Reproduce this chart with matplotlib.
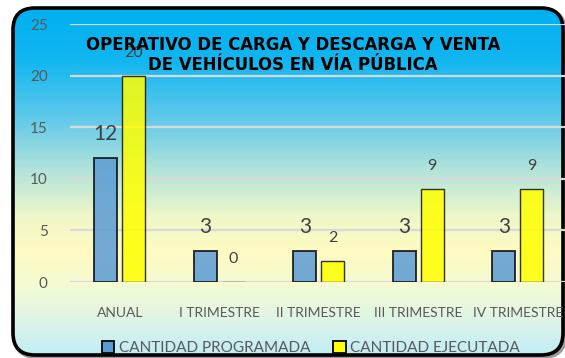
import numpy as np
import matplotlib
matplotlib.use("Agg")
import matplotlib.pyplot as plt
from matplotlib.patches import FancyBboxPatch, Patch
from matplotlib.colors import LinearSegmentedColormap

# ── Data ─────────────────────────────────────────────────────────────
categorias = ["ANUAL", "I TRIMESTRE", "II TRIMESTRE", "III TRIMESTRE", "IV TRIMESTRE"]
programada = [12, 3, 3, 3, 3]
ejecutada  = [20, 0, 2, 9, 9]
y_ticks    = [0, 5, 10, 15, 20, 25]

TITULO = "OPERATIVO DE CARGA Y DESCARGA Y VENTA\nDE VEHÍCULOS EN VÍA PÚBLICA"

AZUL     = "#5B9BD5"
AMARILLO = "#FFFF00"
GRIS_TXT = "#595959"
GRID     = "#D9D9D9"

W, H = 565, 358
plt.rcParams["font.family"] = ["Lato", "DejaVu Sans"]

fig = plt.figure(figsize=(W / 100, H / 100), dpi=100)
fig.patch.set_facecolor("white")

# ── Rounded frame with gradient fill (pixel coordinates) ─────────────
bg = fig.add_axes([0, 0, 1, 1], zorder=-5)
bg.set_xlim(0, W)
bg.set_ylim(H, 0)
bg.axis("off")

x0, y0, x1, y1 = 13, 8, 563, 355
shadow = FancyBboxPatch((x0 + 2, y0 + 2), x1 - x0, y1 - y0,
                        boxstyle="round,pad=0,rounding_size=22",
                        facecolor="#9a9a9a", edgecolor="#9a9a9a", lw=3)
bg.add_patch(shadow)
frame = FancyBboxPatch((x0, y0), x1 - x0, y1 - y0,
                       boxstyle="round,pad=0,rounding_size=22",
                       facecolor="none", edgecolor="black", lw=2.6, zorder=3)
bg.add_patch(frame)

stops = [
    (0.00, "#00B0F0"),
    (0.15, "#12B6F0"),
    (0.32, "#62CAEA"),
    (0.47, "#B4E4DA"),
    (0.60, "#EEF7C8"),
    (0.70, "#FFFBC2"),
    (0.82, "#F2FAD6"),
    (0.93, "#D6F2EC"),
    (1.00, "#C2EDF6"),
]
cmap = LinearSegmentedColormap.from_list("fondo", stops)
grad = np.linspace(0, 1, 400).reshape(-1, 1)
img = bg.imshow(grad, cmap=cmap, aspect="auto",
                extent=(x0, x1, y1, y0), zorder=1)
clip = FancyBboxPatch((x0, y0), x1 - x0, y1 - y0,
                      boxstyle="round,pad=0,rounding_size=22",
                      transform=bg.transData, facecolor="none")
img.set_clip_path(clip)

# ── Bar chart ────────────────────────────────────────────────────────
ax = fig.add_axes([70 / W, 76 / H, (W - 70) / W, 258 / H])
ax.patch.set_alpha(0)
x = np.arange(len(categorias))
bw, off = 0.23, 0.14

b1 = ax.bar(x - off, programada, bw, color=AZUL, alpha=0.85,
            edgecolor="#111111", linewidth=1.4, zorder=3)
b2 = ax.bar(x + off, ejecutada, bw, color=AMARILLO, alpha=0.85,
            edgecolor="#111111", linewidth=1.0, zorder=3)

for bar, val in zip(b1, programada):
    ax.annotate(f"{val}", (bar.get_x() + bar.get_width() / 2, val),
                xytext=(0, 24), textcoords="offset pixels",
                ha="center", va="center", fontsize=15, color="#404040")
for bar, val in zip(b2, ejecutada):
    ax.annotate(f"{val}", (bar.get_x() + bar.get_width() / 2, val),
                xytext=(0, 23), textcoords="offset pixels",
                ha="center", va="center", fontsize=11.5, color="#404040")

ax.set_ylim(0, 25)
ax.set_xlim(-0.5, 4.5 - 2.5 / 99.5)
ax.set_yticks(y_ticks)
ax.set_xticks(x)
ax.set_xticklabels(categorias)
ax.grid(axis="y", color=GRID, linewidth=1.6, zorder=0)
ax.set_axisbelow(True)
for s in ax.spines.values():
    s.set_visible(False)
ax.tick_params(axis="both", length=0, labelsize=10, colors=GRIS_TXT)
ax.tick_params(axis="y", labelsize=11, pad=16)
ax.tick_params(axis="x", pad=18)

# ── Title and legend ─────────────────────────────────────────────────
fig.text(293 / W, 1 - 55 / H, TITULO, ha="center", va="center",
         fontsize=13.2, fontweight="bold", fontstretch="condensed",
         color="black", family=["DejaVu Sans"],
         linespacing=1.2, zorder=10)

handles = [
    Patch(facecolor=AZUL, edgecolor="#111111", linewidth=1.4, label="CANTIDAD PROGRAMADA"),
    Patch(facecolor=AMARILLO, edgecolor="#111111", linewidth=1.4, label="CANTIDAD EJECUTADA"),
]
fig.legend(handles=handles, loc="center", bbox_to_anchor=(311 / W, 1 - 348 / H),
           ncol=2, frameon=False, fontsize=11, handlelength=0.8,
           handleheight=0.8, handletextpad=0.3, columnspacing=1.5,
           labelcolor=GRIS_TXT)

fig.savefig("out.png", dpi=100, facecolor="white")
